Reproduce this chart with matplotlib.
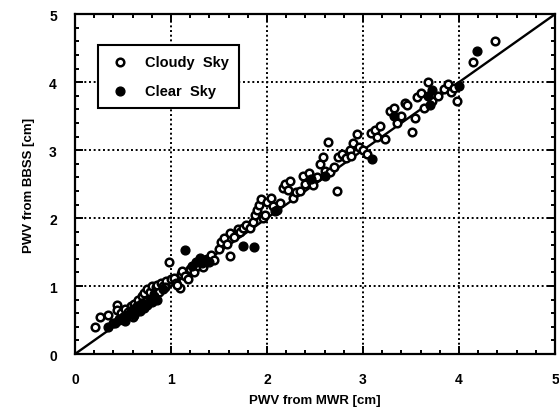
import matplotlib.pyplot as plt
from matplotlib.ticker import MultipleLocator

plt.rcParams['font.family'] = ['Liberation Sans', 'DejaVu Sans']
plt.rcParams['font.weight'] = 'bold'

# cloudy sky points (open circles): MWR, BBSS
cloudy_x = [0.21, 0.26, 0.34, 0.44, 0.44, 0.48, 0.52, 0.55, 0.58, 0.62, 0.66, 0.70, 0.72, 0.75,
            0.78, 0.80, 0.84, 0.86, 0.90, 0.92, 0.95, 0.98, 1.00, 1.03, 1.05, 1.09, 1.10, 1.12,
            1.15, 1.20, 1.24, 1.28, 1.33, 1.38, 1.42, 1.45, 1.50, 1.52, 1.55, 1.58, 1.62, 1.62,
            1.66, 1.70, 1.72, 1.75, 1.78, 1.82, 1.85, 1.88, 1.90, 1.92, 1.94, 1.96, 1.98, 2.00,
            2.04, 2.06, 2.10, 2.14, 2.17, 2.19, 2.22, 2.24, 2.27, 2.30, 2.34, 2.37, 2.40, 2.44,
            2.46, 2.48, 2.52, 2.55, 2.58, 2.60, 2.64, 2.66, 2.70, 2.73, 2.74, 2.78, 2.82, 2.86,
            2.88, 2.90, 2.94, 2.96, 3.00, 3.04, 3.08, 3.12, 3.15, 3.18, 3.23, 3.28, 3.32, 3.35,
            3.40, 3.44, 3.46, 3.51, 3.54, 3.56, 3.60, 3.64, 3.68, 3.72, 3.78, 3.84, 3.88, 3.92,
            3.95, 3.98, 4.15, 4.37, 0.40, 0.46, 0.60, 0.64, 0.68, 0.74, 0.82, 0.88, 0.94, 1.06,
            1.18]
cloudy_y = [0.40, 0.55, 0.57, 0.72, 0.65, 0.60, 0.66, 0.62, 0.70, 0.74, 0.80, 0.86, 0.90, 0.95,
            0.92, 1.00, 0.98, 1.02, 1.05, 1.00, 1.08, 1.35, 1.10, 1.12, 1.05, 0.97, 1.18, 1.22,
            1.15, 1.25, 1.20, 1.30, 1.28, 1.40, 1.45, 1.38, 1.55, 1.65, 1.70, 1.62, 1.44, 1.78,
            1.72, 1.84, 1.80, 1.86, 1.90, 1.85, 1.95, 2.05, 2.12, 2.20, 2.28, 2.00, 2.05, 2.24,
            2.30, 2.18, 2.12, 2.22, 2.45, 2.50, 2.42, 2.54, 2.30, 2.38, 2.40, 2.62, 2.50, 2.66,
            2.55, 2.48, 2.60, 2.80, 2.90, 2.70, 3.12, 2.68, 2.75, 2.40, 2.90, 2.95, 2.88, 3.00,
            2.92, 3.10, 3.24, 3.05, 3.00, 2.95, 3.25, 3.30, 3.20, 3.35, 3.16, 3.58, 3.62, 3.40,
            3.50, 3.70, 3.66, 3.26, 3.47, 3.78, 3.84, 3.62, 4.00, 3.72, 3.80, 3.90, 3.98, 3.85,
            3.92, 3.72, 4.30, 4.60, 0.45, 0.50, 0.55, 0.65, 0.72, 0.78, 0.88, 0.92, 0.98, 1.02,
            1.10]

# clear sky points (filled circles)
clear_x = [0.34, 0.42, 0.46, 0.50, 0.52, 0.55, 0.58, 0.60, 0.62, 0.65, 0.68, 0.70, 0.72, 0.75,
           0.78, 0.80, 0.82, 0.85, 0.92, 1.15, 1.22, 1.26, 1.30, 1.32, 1.35, 1.40, 1.75, 1.86,
           2.08, 2.46, 2.60, 3.09, 3.32, 3.68, 3.70, 3.72, 4.00, 4.19]
clear_y = [0.40, 0.45, 0.52, 0.55, 0.48, 0.58, 0.62, 0.66, 0.58, 0.70, 0.64, 0.75, 0.68, 0.72,
           0.80, 0.76, 0.85, 0.80, 0.95, 1.53, 1.30, 1.36, 1.42, 1.34, 1.38, 1.36, 1.59, 1.57,
           2.10, 2.58, 2.62, 2.87, 3.50, 3.80, 3.66, 3.88, 3.95, 4.46]

fig = plt.figure(figsize=(5.59, 4.10), dpi=100)
ax = fig.add_axes([0.134, 0.134, 0.859, 0.829])

ax.plot([0, 5], [0, 5], color='black', lw=1.7, zorder=2)
ax.scatter(cloudy_x, cloudy_y, s=30, facecolors='white', edgecolors='black',
           linewidths=1.8, zorder=3, label='Cloudy  Sky')
ax.scatter(clear_x, clear_y, s=40, color='black', zorder=4, label='Clear  Sky')

ax.set_xlim(0, 5)
ax.set_ylim(0, 5)
ax.xaxis.set_major_locator(MultipleLocator(1))
ax.yaxis.set_major_locator(MultipleLocator(1))
ax.xaxis.set_minor_locator(MultipleLocator(0.2))
ax.yaxis.set_minor_locator(MultipleLocator(0.2))
ax.tick_params(which='both', direction='in', top=True, right=True, width=1.4)
ax.tick_params(which='major', length=6, labelsize=10, pad=13)
ax.tick_params(which='minor', length=3)
for s in ax.spines.values():
    s.set_linewidth(1.6)
ax.grid(True, which='major', linestyle=(0, (1, 1.4)), color='black', lw=1.4)
ax.set_axisbelow(True)

ax.set_xlabel('PWV from MWR [cm]', fontsize=9.5, fontweight='bold', labelpad=6)
ax.set_ylabel('PWV from BBSS [cm]', fontsize=9.5, fontweight='bold', labelpad=10)

leg = ax.legend(loc='upper left', bbox_to_anchor=(0.048, 0.909), fontsize=10.5,
                frameon=True, fancybox=False, edgecolor='black', framealpha=1,
                labelspacing=1.0, handletextpad=0.9, borderpad=0.7, handlelength=1.6,
                borderaxespad=0)
leg.get_frame().set_linewidth(1.5)

fig.savefig('out.png', dpi=100)
